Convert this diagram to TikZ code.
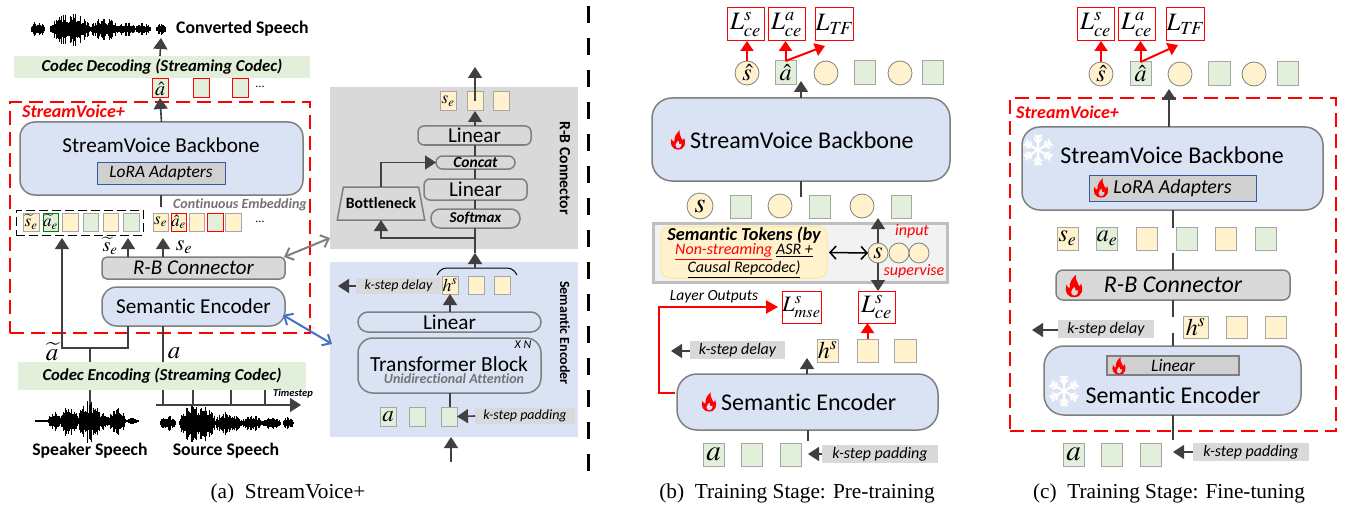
\documentclass[tikz,border=0pt]{standalone}
\usepackage{mathptmx}
\usepackage[no-math]{fontspec}
\setmainfont{Carlito}[Ligatures=NoCommon]
\newfontfamily\capfont{Liberation Serif}
\usetikzlibrary{arrows.meta,shapes.geometric,calc}
\definecolor{gbar}{HTML}{E2EFDA}
\definecolor{bluebox}{HTML}{DAE3F3}
\definecolor{yel}{HTML}{FFF2CC}
\definecolor{grayf}{HTML}{D9D9D9}
\definecolor{lora}{HTML}{D0D0D0}
\definecolor{edge}{HTML}{7F7F7F}
\definecolor{dk}{HTML}{404040}
\definecolor{lblue}{HTML}{4472C4}
\newcommand\nb[7][]{\pgfmathsetmacro\nbW{#5-#3}\pgfmathsetmacro\nbH{#6-#4}%
  \node[inner sep=0pt,outer sep=0pt,minimum width=\nbW pt,minimum height=\nbH pt,#1] (#2) at ({(#3+#5)/2},{(#4+#6)/2}) {#7};}
\newcommand\nc[6][]{\pgfmathsetmacro\nbW{2*#5}%
  \node[circle,inner sep=0pt,outer sep=0pt,minimum size=\nbW pt,#1] (#2) at (#3,#4) {#6};}
\newcommand\wave[2]{\foreach \a/\b/\hh in {#2}{%
    \pgfmathtruncatemacro\nn{\b-\a}%
    \foreach \i in {0,...,\nn}{%
      \pgfmathsetmacro\hv{max(0.6,\hh*sqrt(abs(sin(180*(\i+0.5)/(\nn+1))))*(0.4+0.6*rnd))}%
      \draw[black,line width=.95pt] ({\a+\i},{#1-\hv}) -- ({\a+\i},{#1+\hv*1.1});}}}
\newcommand\flame[3]{\begin{scope}[shift={(#1,#2)},scale=#3]
  \fill[red,even odd rule] (0,8) .. controls (-5,8) and (-7,3.5) .. (-5.5,-1) .. controls (-5,0.5) and (-4,1.5) .. (-3,1.5) .. controls (-3.5,-3) and (-1,-6) .. (1.5,-8) .. controls (0.5,-4) and (3,-3) .. (3.5,0) .. controls (4.5,0) and (5,-1) .. (5,-2) .. controls (7,2) and (6,8) .. (0,8) -- cycle
  (0.5,7) .. controls (3,6) and (3.5,4) .. (2.8,2.5) .. controls (2.3,3.5) and (1.5,3.5) .. (1,3) .. controls (1.5,2) and (0.5,1) .. (0,0.5) .. controls (-0.5,2) and (-2.5,3) .. (-2.2,4.5) .. controls (-2,6) and (-1,7) .. (0.5,7) -- cycle;
\end{scope}}
\newcommand\snow[3]{\begin{scope}[shift={(#1,#2)},scale=#3]
  \foreach \r in {0,60,...,300}{\draw[white,line width=2pt,rotate=\r] (0,0)--(0,-15) (-4,-11.5)--(0,-7.5)--(4,-11.5) (-3.5,-15)--(0,-11.5)--(3.5,-15);}
\end{scope}}
\tikzset{
  ga/.style={draw=dk,line width=1.6pt,-{Triangle[length=11pt,width=14pt]}},
  gl/.style={draw=dk,line width=1.6pt},
  ra/.style={draw=red,line width=2pt,-{Triangle[length=10pt,width=13pt]}},
  bluefill/.style={draw=edge,line width=1.5pt,fill=bluebox,rounded corners=15pt},
  gsq/.style={draw=gray!70,line width=1pt,fill=gbar},
  ysq/.style={draw=gray!70,line width=1pt,fill=yel},
  rgsq/.style={draw=red,line width=1pt,fill=gbar},
  rysq/.style={draw=red,line width=1pt,fill=yel},
  ycirc/.style={draw=gray,line width=.8pt,fill=yel},
  lossbox/.style={draw=red,line width=1pt,fill=white,font=\fontsize{25}{25}\selectfont},
  greytag/.style={fill=grayf,font=\fontsize{14}{14}\selectfont\itshape},
  greytagb/.style={fill=grayf,font=\fontsize{16}{16}\selectfont\itshape},
  band/.style={fill=gbar,font=\fontsize{16.7}{16.7}\selectfont\bfseries\itshape},
  rbfill/.style={draw=edge,line width=1.5pt,fill=grayf,rounded corners=5pt},
  inner/.style={draw=edge,line width=1.5pt,fill=none},
  lorabox/.style={draw=lblue!80!black,line width=1pt,fill=lora},
  redframe/.style={draw=red,line width=2pt,dash pattern=on 14pt off 7pt},
  ttl/.style={font=\fontsize{17.7}{17.7}\selectfont\bfseries},
  sv/.style={font=\fontsize{18}{18}\selectfont\bfseries\itshape,text=red,inner sep=0pt},
  mth/.style={font=\fontsize{17}{17}\selectfont},
  mbig/.style={font=\fontsize{24}{24}\selectfont},
  mmid/.style={font=\fontsize{20}{20}\selectfont},
  caps/.style={font=\capfont\fontsize{21.3}{21.3}\selectfont},
  vlab/.style={font=\fontsize{14.5}{14.5}\selectfont\bfseries,rotate=-90},
  bigsans/.style={font=\fontsize{24}{24}\selectfont},
  midsans/.style={font=\fontsize{21.2}{21.2}\selectfont},
}
\begin{document}
\begin{tikzpicture}[x=1pt,y=-1pt]
\useasboundingbox (0,0) rectangle (1346,508);
% ---------- panel (a)
\pgfmathsetseed{17}
\wave{29}{31/44/8,50/90/16,90/118/11,118/135/7,135/150/6,156/165/6}
\node[ttl,anchor=west,inner sep=0pt] (convT) at (176,29) {Converted Speech};
\nb[band]{decBand}{14}{56}{310}{78}{Codec Decoding (Streaming Codec)}
\nb[rgsq,mmid]{ahat}{152}{79}{168}{98}{$\hat{a}$}
\nb[rgsq]{a2}{193}{79}{209}{98}{}
\nb[rgsq]{a3}{232}{79}{248}{98}{}
\node[font=\fontsize{12}{12}\selectfont] (dotsA) at (260,87) {...};
\coordinate (convIn) at (161,38);
\draw[ga] (decBand.north -| ahat) -- (convIn);
\nb[redframe]{svFrameA}{10}{102}{310}{333}{}
\node[sv,anchor=west] (svA) at (22,111) {StreamVoice+};
\nb[bluefill]{bbA}{20}{122}{303}{195}{}
\node[midsans] (bbAT) at (161,145) {StreamVoice Backbone};
\nb[lorabox,font=\fontsize{17.4}{17.4}\selectfont\itshape]{loraA}{97}{162}{225}{184}{LoRA Adapters}
\draw[ga] (bbA.north) -- (ahat.south);
\node[font=\fontsize{14}{14}\selectfont\bfseries\itshape,text=gray!90!black] (contT) at (240,205) {Continuous Embedding};
\nb[draw=black,line width=1pt,dash pattern=on 9pt off 4pt]{dashA}{16}{210}{143}{235}{}
\nb[ysq,mth]{sta}{23}{213}{39}{231}{$\widetilde{s}_{e}$}
\nb[gsq,mth,draw=green!50!black]{ata}{43}{213}{58}{231}{$\widetilde{a}_{e}$}
\nb[ysq]{t3}{62}{213}{78}{231}{}
\nb[gsq]{t4}{83}{213}{98}{231}{}
\nb[ysq]{t5}{103}{213}{118}{231}{}
\nb[gsq]{t6}{123}{213}{139}{231}{}
\nb[ysq,mth]{seA}{153}{213}{168}{231}{$s_{e}$}
\nb[rgsq,mth,fill=yel]{aeA}{171}{213}{186}{231}{$\hat{a}_{e}$}
\nb[ysq]{u3}{189}{213}{204}{231}{}
\nb[rgsq]{u4}{207}{213}{223}{231}{}
\nb[ysq]{u5}{225}{213}{241}{231}{}
\node[font=\fontsize{12}{12}\selectfont] (dotsB) at (260,222) {...};
\coordinate (bbAin) at (161,207);
\draw[gl] (bbA.south -| bbAin) -- (bbAin);
\nb[rbfill,font=\fontsize{21}{21}\selectfont\itshape]{rbA}{102}{257}{285}{279}{R-B Connector}
\nb[bluefill,midsans]{semA}{102}{287}{285}{326}{Semantic Encoder}
\node[mmid] (labSt) at (110,246) {$\widetilde{s}_{e}$};
\node[font=\fontsize{22}{22}\selectfont] (labS) at (184,247) {$s_{e}$};
\coordinate (xT) at (128,238); \coordinate (xS) at (163,238); \coordinate (xL) at (62,238);
\draw[ga] (rbA.north -| xT) -- (xT);
\draw[ga] (rbA.north -| xS) -- (xS);
\coordinate (jn) at (128,348); \coordinate (jl) at (62,348);
\nb[band]{encBand}{18}{362}{306}{390}{Codec Encoding (Streaming Codec)}
\draw[ga] (semA.south -| jn) -- (jn) -- (jl) -- (xL);
\coordinate (jm) at (90,348);
\draw[gl] (jm) -- (encBand.north -| jm);
\draw[gl] (semA.south -| xS) -- (encBand.north -| xS);
\node[font=\fontsize{25}{25}\selectfont] (labTa) at (52,352) {$\widetilde{a}$};
\node[font=\fontsize{25}{25}\selectfont] (labA) at (174,353) {$a$};
\coordinate (tl0) at (156,405); \coordinate (tl1) at (301,405);
\draw[ga] (tl0) -- (tl1);
\foreach \x in {163,193,231,265}{\coordinate (tk) at (\x,405); \draw[gl] (encBand.south -| tk) -- (tk);}
\coordinate (spk) at (90,405);
\draw[gl] (encBand.south -| spk) -- (spk);
\node[font=\fontsize{10.5}{10.5}\selectfont\bfseries\itshape] (tsT) at (293,394) {Timestep};
\pgfmathsetseed{5}
\wave{421}{35/48/1,48/60/9,60/78/15,78/100/20,100/108/9,108/125/14,125/138/3}
\wave{423}{160/175/8,179/215/19,215/240/12,240/262/8,262/280/6,283/293/6}
\node[ttl] (spkT) at (90,451) {Speaker Speech};
\node[ttl] (srcT) at (226,451) {Source Speech};
\node[caps] (capA) at (288,493) {(a)\ \ StreamVoice+};
% R-B detail
\nb[fill=grayf]{rbD}{330}{87}{578}{249}{}
\node[vlab,font=\fontsize{15.7}{15.7}\selectfont\bfseries] (rbV) at (565,168) {R-B Connector};
\nb[ysq,mth]{seD}{440}{92}{456}{111}{$s_{e}$}
\nb[ysq]{d2}{467}{92}{483}{111}{}
\nb[ysq]{d3}{493}{92}{509}{111}{}
\nb[inner,rounded corners=6pt,midsans]{lin1}{418}{126}{531}{145}{Linear}
\nb[inner,rounded corners=6.5pt,font=\fontsize{15.5}{15.5}\selectfont\bfseries\itshape]{conc}{436}{156}{515}{169}{Concat}
\nb[inner,rounded corners=6pt,midsans]{lin2}{424}{179}{527}{200}{Linear}
\nb[inner,rounded corners=9pt,font=\fontsize{15}{15}\selectfont\bfseries\itshape]{soft}{431}{209}{520}{228}{Softmax}
\node[trapezium,trapezium stretches=true,trapezium left angle=63,trapezium right angle=63,inner sep=0pt,outer sep=0pt,minimum width=88pt,minimum height=33pt,draw=edge,line width=1.5pt,font=\fontsize{15.7}{15.7}\selectfont\bfseries] (bott) at (381,203.5) {Bottleneck};
\coordinate (top) at (475,67);
\draw[ga] (d2.center) -- (top);
\draw[ga] (lin1.north -| d2) -- (d2.south);
\draw[gl] (lin1.south -| d2) -- (conc.north -| d2);
\draw[gl] (conc.south -| d2) -- (lin2.north -| d2);
\draw[gl] (lin2.south -| d2) -- (soft.north -| d2);
\coordinate (bIn) at (475,238);
\draw[ga] (bIn) -| (bott.south);
\draw[ga] (bott.north) |- (conc.west);
% Semantic detail
\nb[fill=bluebox]{semD}{330}{262}{578}{437}{}
\node[vlab,font=\fontsize{14}{14}\selectfont\bfseries] (semV) at (565,333) {Semantic Encoder};
\nb[ysq,font=\fontsize{18}{18}\selectfont]{hD}{442}{276}{458}{294}{$h^{s}$}
\nb[ysq]{h2}{468}{276}{484}{294}{}
\nb[ysq]{h3}{494}{276}{510}{294}{}
\nb[greytag]{delayD}{356}{278}{441}{294}{k-step delay}
\coordinate (delayEnd) at (338,286);
\draw[ga] (delayD.west) -- (delayEnd);
\nb[inner,rounded corners=10pt,midsans]{linD}{358}{312}{541}{332}{Linear}
\nb[inner,rounded corners=15pt]{trD}{358}{338}{541}{393}{}
\node[font=\fontsize{21.5}{21.5}\selectfont] (trT) at (449,364) {Transformer Block};
\node[font=\fontsize{14}{14}\selectfont\bfseries\itshape,text=gray!90!black] (uniT) at (454,379) {Unidirectional Attention};
\node[font=\fontsize{12}{12}\selectfont\itshape] (xnT) at (523,345) {X N};
\draw[ga] (linD.north -| hD) -- (hD.south);
\nb[gsq,font=\fontsize{23}{23}\selectfont]{aD}{380}{407}{396}{426}{$a$}
\nb[gsq]{a2D}{409}{407}{425}{426}{}
\nb[gsq]{a3D}{441}{407}{457}{426}{}
\draw[gl] (a3D.north -| hD) -- (trD.south -| hD);
\nb[greytag]{padD}{475}{408}{575}{424}{k-step padding}
\draw[ga] (padD.west) -- (a3D.east);
\coordinate (up0) at (451,462);
\draw[ga] (up0) -- (semD.south -| up0);
\draw[black,line width=1pt] (437,275) .. controls (441,268) and (444,268) .. (450,268) -- (503,268) .. controls (510,268) and (513,268) .. (517,275);
\coordinate (braceTop) at (475,253); \coordinate (braceB) at (475,268);
\draw[ga] (braceB) -- (braceTop);
\draw[gl] (braceTop) -- (soft.south -| braceTop);
% links between overview and detail
\coordinate (grayR) at (330,238); \coordinate (blueR) at (332,344);
\draw[draw=gray,line width=2pt,{Straight Barb[length=7pt,width=13pt]}-{Straight Barb[length=7pt,width=13pt]}] (284,257) -- (grayR);
\draw[draw=lblue,line width=2pt,{Straight Barb[length=7pt,width=13pt]}-{Straight Barb[length=7pt,width=13pt]}] (283,315) -- (blueR);
% divider
\coordinate (divT) at (588,6); \coordinate (divB) at (588,472);
\draw[black,line width=3pt,dash pattern=on 17pt off 15pt] (divT) -- (divB);
% ---------- panel (b)
\nb[lossbox]{l1b}{727}{8}{764}{41}{$L_{ce}^{s}$}
\nb[lossbox]{l2b}{768}{8}{805}{41}{$L_{ce}^{a}$}
\nb[lossbox]{l3b}{816}{8}{853}{41}{$L_{T\!F}$}
\nc[ycirc,mbig]{shatB}{747}{73}{12}{$\hat{s}$}
\nb[gsq,mbig]{ahatB}{775}{61}{796}{85}{$\hat{a}$}
\nc[ycirc]{c3b}{826}{73}{12}{}
\nb[gsq]{c4b}{854}{61}{875}{85}{}
\nc[ycirc]{c5b}{900}{73}{12}{}
\nb[gsq]{c6b}{922}{61}{943}{85}{}
\draw[ra] (shatB.north) -- (l1b.south -| shatB);
\draw[ra] (ahatB.north) -- (l2b.south -| ahatB);
\coordinate (lt) at (825,46);
\draw[ra] (ahatB.north) -- (lt);
\nb[bluefill,rounded corners=20pt]{bbB}{652}{98}{950}{181}{}
\node[bigsans,anchor=west,inner sep=0pt] (bbBT) at (690,140) {StreamVoice Backbone};
\flame{678}{140}{1.2}
\coordinate (bbBtop) at (801,81); \coordinate (bbBbot) at (801,197);
\draw[ga] (bbBtop |- bbB.north) -- (bbBtop);
\draw[gl] (bbBbot |- bbB.south) -- (bbBbot);
\nc[ycirc,font=\fontsize{28}{28}\selectfont]{s1b}{700}{206}{13}{$s$}
\nb[gsq]{s2b}{730}{195}{751}{218}{}
\nc[ycirc]{s3b}{780}{206}{12}{}
\nb[gsq]{s4b}{809}{195}{830}{218}{}
\nc[ycirc]{s5b}{862}{206}{12}{}
\nb[gsq]{s6b}{891}{195}{911}{218}{}
\nb[fill=black!5,draw=gray!50,line width=3pt]{tokB}{653}{223}{947}{282}{}
\nb[fill=yel,draw=yellow!60!orange!40,line width=1pt,rounded corners=10pt,font=\fontsize{16}{14}\selectfont\itshape,align=center]{tokT}{661}{227}{827}{278}{{\fontsize{18.3}{14}\selectfont\textbf{Semantic Tokens (by}}\\{\color{red}\underline{Non-streaming}} \underline{ASR +}\\\underline{Causal Repcodec)}}
\nc[ycirc,fill=yel,mbig]{sb}{878}{253}{10}{$s$}
\nc[ycirc]{sb2}{899}{253}{10}{}
\nc[ycirc]{sb3}{919}{253}{10}{}
\draw[black,line width=1.5pt,{Straight Barb[length=6pt,width=13pt]}-{Straight Barb[length=6pt,width=13pt]}] (tokT.east) ++(2,0) -- (sb.west);
\node[font=\fontsize{16}{16}\selectfont\itshape,text=red] (inT) at (912,231) {input};
\node[font=\fontsize{16}{16}\selectfont\itshape,text=red] (supT) at (914,271) {supervise};
\draw[ga] (sb.north) -- (s5b.south -| sb);
\nb[lossbox,font=\fontsize{22}{22}\selectfont]{lmse}{782}{291}{821}{323}{$L_{mse}^{s}$}
\nb[lossbox]{lceb}{858}{291}{895}{323}{$L_{ce}^{s}$}
\draw[ga] (sb.south) -- (lceb.north -| sb);
\node[font=\fontsize{15.5}{15.5}\selectfont\itshape] (layT) at (714,297) {Layer Outputs};
\nb[greytagb]{delB}{690}{341}{785}{359}{k-step delay}
\coordinate (delBe) at (671,351);
\draw[ga] (delB.west |- delBe) -- (delBe);
\nb[ysq,mbig]{hB}{817}{339}{838}{362}{$h^{s}$}
\nb[ysq]{h2B}{857}{339}{878}{362}{}
\nb[ysq]{h3B}{894}{339}{916}{362}{}
\draw[ra] (h2B.north) -- (lceb.south -| h2B);
\nb[bluefill,rounded corners=20pt]{semB}{677}{374}{938}{430}{}
\node[bigsans,anchor=west,inner sep=0pt] (semBT) at (721,402) {Semantic Encoder};
\flame{709}{402}{1.2}
\coordinate (semBup) at (807,358); \coordinate (semBdn) at (808,441);
\draw[ga] (semB.north -| semBup) -- (semBup);
\draw[gl] (semB.south -| semBdn) -- (semBdn);
\coordinate (redA) at (675,393); \coordinate (redB) at (659,393);
\draw[draw=red,line width=2pt,-{Triangle[length=12pt,width=13pt]},shorten >=4pt] (redA) -- (redB) |- (lmse.west);
\nb[gsq,font=\fontsize{29}{29}\selectfont]{aB}{703}{443}{724}{466}{$a$}
\nb[gsq]{a2B}{741}{443}{762}{466}{}
\nb[gsq]{a3B}{780}{443}{801}{466}{}
\nb[greytagb]{padB}{822}{445}{938}{463}{k-step padding}
\coordinate (padBe) at (808,454);
\draw[ga] (padB.west |- padBe) -- (padBe);
\node[caps] (capB) at (797,493) {(b)\ \ Training Stage: Pre-training};
% ---------- panel (c)
\nb[lossbox]{l1c}{1077}{8}{1114}{41}{$L_{ce}^{s}$}
\nb[lossbox]{l2c}{1118}{8}{1155}{41}{$L_{ce}^{a}$}
\nb[lossbox]{l3c}{1167}{8}{1204}{41}{$L_{T\!F}$}
\nc[ycirc,mbig]{shatC}{1101}{74}{12}{$\hat{s}$}
\nb[gsq,mbig]{ahatC}{1130}{62}{1151}{86}{$\hat{a}$}
\nc[ycirc]{c3c}{1180}{74}{12}{}
\nb[gsq]{c4c}{1208}{62}{1230}{86}{}
\nc[ycirc]{c5c}{1254}{74}{12}{}
\nb[gsq]{c6c}{1277}{62}{1298}{86}{}
\draw[ra] (shatC.north) -- (l1c.south -| shatC);
\draw[ra] (ahatC.north) -- (l2c.south -| ahatC);
\coordinate (ltc) at (1178,45);
\draw[ra] (ahatC.north) -- (ltc);
\nb[redframe]{svFrameC}{1010}{98}{1336}{431}{}
\node[sv,anchor=west] (svC) at (1016,112) {StreamVoice+};
\nb[bluefill,rounded corners=18pt]{bbC}{1022}{127}{1323}{210}{}
\node[bigsans] (bbCT) at (1172,155) {StreamVoice Backbone};
\snow{1038}{150}{1}
\nb[lorabox,font=\fontsize{19.9}{19.9}\selectfont\itshape]{loraC}{1089}{175}{1256}{201}{LoRA Adapters}
\flame{1101}{188}{1.2}
\coordinate (cUp) at (1169,89); \coordinate (cMid) at (1173,228); \coordinate (cMid2) at (1173,253); \coordinate (cMid3) at (1173,317); \coordinate (cMid4) at (1173,333); \coordinate (cBot) at (1173,440);
\draw[ga] (bbC.north -| cUp) -- (cUp);
\draw[gl] (bbC.south -| cMid) -- (cMid);
\nb[ysq,mbig]{seC}{1057}{227}{1078}{250}{$s_{e}$}
\nb[gsq,mbig]{aeC}{1097}{227}{1117}{250}{$a_{e}$}
\nb[ysq]{u3c}{1136}{227}{1157}{250}{}
\nb[gsq]{u4c}{1176}{227}{1197}{250}{}
\nb[ysq]{u5c}{1215}{227}{1236}{250}{}
\nb[gsq]{u6c}{1255}{227}{1276}{250}{}
\nb[rbfill,rounded corners=7pt,font=\fontsize{24}{24}\selectfont\itshape]{rbC}{1056}{270}{1290}{300}{R-B Connector}
\flame{1074}{286}{1.4}
\draw[gl] (cMid2) -- (rbC.north -| cMid2);
\draw[gl] (rbC.south -| cMid3) -- (cMid3);
\nb[greytagb]{delC}{1058}{320}{1154}{338}{k-step delay}
\coordinate (delCe) at (1032,330);
\draw[ga] (delC.west |- delCe) -- (delCe);
\nb[ysq,mbig]{hC}{1183}{316}{1208}{338}{$h^{s}$}
\nb[ysq]{h2C}{1226}{316}{1247}{338}{}
\nb[ysq]{h3C}{1265}{316}{1286}{338}{}
\nb[bluefill,rounded corners=20pt]{semC}{1044}{346}{1301}{415}{}
\nb[inner,fill=lora,font=\fontsize{17.5}{17.5}\selectfont\itshape]{linC}{1107}{356}{1239}{375}{Linear}
\flame{1119}{366}{1.1}
\node[bigsans] (semCT) at (1173,395) {Semantic Encoder};
\snow{1064}{391}{1}
\draw[gl] (cMid4) -- (semC.north -| cMid4);
\draw[gl] (semC.south -| cBot) -- (cBot);
\nb[gsq,font=\fontsize{29}{29}\selectfont]{aC}{1063}{443}{1084}{466}{$a$}
\nb[gsq]{a2C}{1101}{443}{1122}{466}{}
\nb[gsq]{a3C}{1140}{443}{1161}{466}{}
\nb[greytagb]{padC}{1193}{443}{1309}{461}{k-step padding}
\coordinate (padCe) at (1173,452);
\draw[ga] (padC.west |- padCe) -- (padCe);
\node[caps] (capC) at (1169,493) {(c)\ \ Training Stage: Fine-tuning};
\end{tikzpicture}
\end{document}
